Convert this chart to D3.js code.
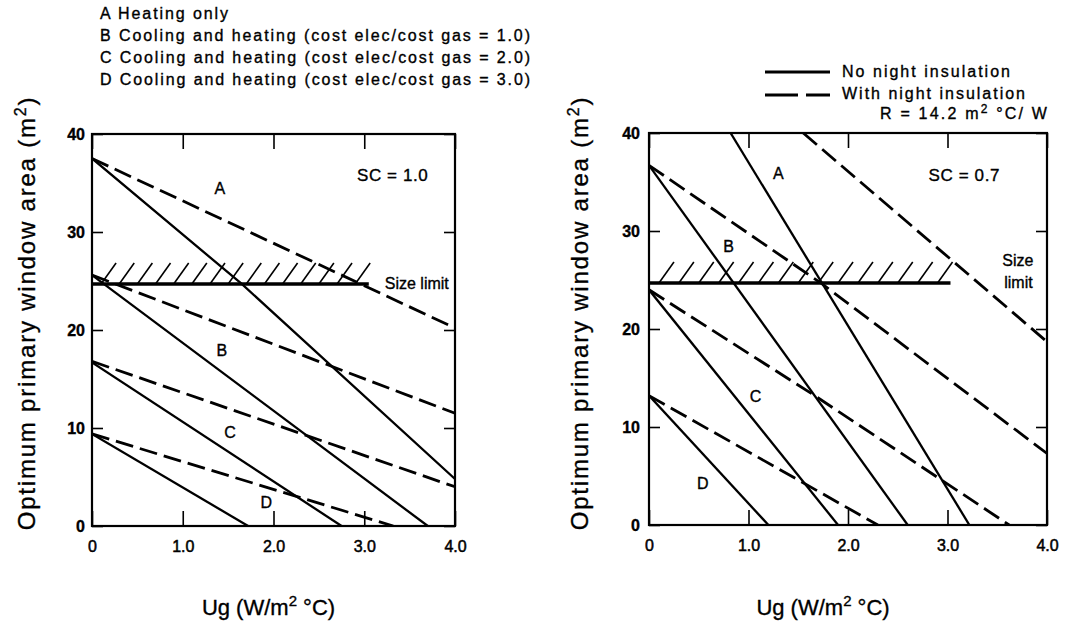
<!DOCTYPE html>
<html><head><meta charset="utf-8">
<script src="https://cdn.jsdelivr.net/npm/d3@7/dist/d3.min.js"></script>
<style>
body{margin:0;background:#fff}
svg{display:block;background:#fff}
text{font-family:"Liberation Sans",Arial,Helvetica,sans-serif;fill:#000;stroke:#000;stroke-width:0.35}
</style>
</head><body>
<svg id="c" width="1067" height="627"></svg>
<script>
// ---------- data ----------
const xTicks = [0, 1, 2, 3, 4];
const xTickLabels = ["0", "1.0", "2.0", "3.0", "4.0"];
const yTicks = [0, 10, 20, 30, 40];
const yTickLabels = ["0", "10", "20", "30", "40"];
const legendLines = [
  "A Heating only",
  "B Cooling and heating (cost elec/cost gas = 1.0)",
  "C Cooling and heating (cost elec/cost gas = 2.0)",
  "D Cooling and heating (cost elec/cost gas = 3.0)"
];
const styleLegend = ["No night insulation", "With night insulation"];
const sizeLimit = 24.7;

// SC = 1.0  [Ug, area]
const sc10_A_solid  = [[0, 37.5], [1.65, 24.7], [4.0, 4.8]];
const sc10_A_dashed = [[0, 37.5], [4.0, 20.2]];
const sc10_B_solid  = [[0, 25.6], [3.70, 0]];
const sc10_B_dashed = [[0, 25.6], [4.0, 11.5]];
const sc10_C_solid  = [[0, 16.7], [2.75, 0]];
const sc10_C_dashed = [[0, 16.8], [4.0, 4.0]];
const sc10_D_solid  = [[0, 9.4], [1.72, 0]];
const sc10_D_dashed = [[0, 9.4], [3.32, 0]];
const sc10_limitEnd = 3.05;
const sc10_labels = [["A", 1.41, 34.5], ["B", 1.43, 17.9], ["C", 1.52, 9.6], ["D", 1.92, 2.4]];

// SC = 0.7
const sc07_A_solid  = [[0.82, 40], [3.22, 0]];
const sc07_A_dashed = [[1.55, 40], [4.0, 18.7]];
const sc07_B_solid  = [[0, 36.7], [2.60, 0]];
const sc07_B_dashed = [[0, 36.7], [1.74, 24.6], [4.0, 7.3]];
const sc07_C_solid  = [[0, 24.0], [1.90, 0]];
const sc07_C_dashed = [[0, 24.0], [1.65, 13.3], [3.62, 0]];
const sc07_D_solid  = [[0, 13.2], [1.20, 0]];
const sc07_D_dashed = [[0, 13.2], [2.30, 0]];
const sc07_limitEnd = 3.03;
const sc07_labels = [["A", 1.30, 35.9], ["B", 0.80, 28.4], ["C", 1.07, 13.1], ["D", 0.54, 4.3]];

const svg = d3.select("#c");

function panel(p) {
  const x = d3.scaleLinear().domain([0, 4]).range([p.x0, p.x1]);
  const y = d3.scaleLinear().domain([0, 40]).range([p.yb, p.yt]);
  const g = svg.append("g");
  const cid = "clip" + p.id;
  svg.append("clipPath").attr("id", cid).append("rect")
    .attr("x", p.x0).attr("y", p.yt).attr("width", p.x1 - p.x0).attr("height", p.yb - p.yt);
  const line = d3.line().x(d => x(d[0])).y(d => y(d[1]));
  const lg = g.append("g").attr("clip-path", `url(#${cid})`);
  p.solid.forEach(s => lg.append("path").attr("d", line(s)).attr("fill", "none")
    .attr("stroke", "#000").attr("stroke-width", 2.3));
  p.dashed.forEach(s => lg.append("path").attr("d", line(s)).attr("fill", "none")
    .attr("stroke", "#000").attr("stroke-width", 2.8).attr("stroke-dasharray", "18,7"));
  // size limit
  g.append("line").attr("x1", x(0)).attr("x2", x(p.limitEnd))
    .attr("y1", y(sizeLimit)).attr("y2", y(sizeLimit))
    .attr("stroke", "#000").attr("stroke-width", 3.6);
  d3.range(0.1, p.limitEnd, 0.2).forEach(u => {
    g.append("line").attr("x1", x(u)).attr("y1", y(sizeLimit))
      .attr("x2", x(u) + 15).attr("y2", y(sizeLimit) - 21)
      .attr("stroke", "#000").attr("stroke-width", 1.6);
  });
  // frame
  g.append("rect").attr("x", p.x0).attr("y", p.yt).attr("width", p.x1 - p.x0)
    .attr("height", p.yb - p.yt).attr("fill", "none").attr("stroke", "#000").attr("stroke-width", 2.2);
  // axes
  const ax = g.append("g").attr("transform", `translate(0,${p.yb})`)
    .call(d3.axisBottom(x).tickValues(xTicks).tickFormat((d, i) => xTickLabels[i])
      .tickSize(-15).tickPadding(15));
  const at = g.append("g").attr("transform", `translate(0,${p.yt})`)
    .call(d3.axisTop(x).tickValues(xTicks).tickFormat("").tickSize(-15));
  const al = g.append("g").attr("transform", `translate(${p.x0},0)`)
    .call(d3.axisLeft(y).tickValues(yTicks).tickFormat((d, i) => yTickLabels[i])
      .tickSize(-11).tickPadding(p.ypad));
  const ar = g.append("g").attr("transform", `translate(${p.x1},0)`)
    .call(d3.axisRight(y).tickValues(yTicks).tickFormat("").tickSize(-11));
  [ax, at, al, ar].forEach(a => {
    a.select(".domain").remove();
    a.selectAll(".tick line").attr("stroke", "#000").attr("stroke-width", 1.6);
    a.selectAll("text").attr("font-family", null).style("font-size", "16px").attr("fill", "#000");
  });
  al.selectAll("text").style("font-weight", "bold");
  ax.selectAll("text").style("stroke-width", "0.5");
  // curve labels
  p.labels.forEach(l => g.append("text").attr("x", x(l[1])).attr("y", y(l[2]))
    .attr("text-anchor", "middle").attr("dy", "0.36em").style("font-size", "16px").text(l[0]));
  // SC label
  g.append("text").attr("x", x(p.scPos[0])).attr("y", y(p.scPos[1])).attr("dy", "0.36em")
    .style("font-size", "17px").style("letter-spacing", "0.6px").text(p.sc);
  // axis titles
  const xt = g.append("text").attr("x", (p.x0 + p.x1) / 2 - p.xtShift).attr("y", 615)
    .attr("text-anchor", "middle").style("font-size", "22px");
  xt.append("tspan").text("Ug (W/m");
  xt.append("tspan").attr("dy", -9).style("font-size", "15px").text("2");
  xt.append("tspan").attr("dy", 9).text(" \u00B0C)");
  const yt = g.append("text").attr("transform", `translate(${p.ytX},313) rotate(-90)`)
    .attr("text-anchor", "middle").style("font-size", "24px").style("letter-spacing", "1.8px");
  yt.append("tspan").text("Optimum primary window area (m");
  yt.append("tspan").attr("dy", -9).style("font-size", "16px").text("2");
  yt.append("tspan").attr("dy", 9).text(")");
  return {x, y, g};
}

const left = panel({
  id: "L", x0: 92, x1: 455, yt: 134, yb: 526, ypad: 7, ytX: 35, xtShift: 5,
  solid: [sc10_A_solid, sc10_B_solid, sc10_C_solid, sc10_D_solid],
  dashed: [sc10_A_dashed, sc10_B_dashed, sc10_C_dashed, sc10_D_dashed],
  limitEnd: sc10_limitEnd, labels: sc10_labels, sc: "SC = 1.0", scPos: [2.92, 35.8]
});
const right = panel({
  id: "R", x0: 649, x1: 1047, yt: 133, yb: 525, ypad: 9, ytX: 588, xtShift: 25,
  solid: [sc07_A_solid, sc07_B_solid, sc07_C_solid, sc07_D_solid],
  dashed: [sc07_A_dashed, sc07_B_dashed, sc07_C_dashed, sc07_D_dashed],
  limitEnd: sc07_limitEnd, labels: sc07_labels, sc: "SC = 0.7", scPos: [2.81, 35.7]
});

// size limit labels
left.g.append("text").attr("x", left.x(sc10_limitEnd) + 16).attr("y", left.y(sizeLimit) + 5)
  .style("font-size", "16px").text("Size limit");
right.g.append("text").attr("x", right.x(3.55)).attr("y", right.y(sizeLimit) - 17)
  .style("font-size", "16px").text("Size");
right.g.append("text").attr("x", right.x(3.57)).attr("y", right.y(sizeLimit) + 5)
  .style("font-size", "16px").text("limit");

// top-left legend
const legBase = [19, 41, 63, 85];
legendLines.forEach((t, i) => {
  svg.append("text").attr("x", 100).attr("y", legBase[i]).style("font-size", "16px")
    .attr("textLength", i > 0 ? 430 : 128).attr("lengthAdjust", "spacing").text(t);
});

// top-right style legend
svg.append("line").attr("x1", 765).attr("x2", 830).attr("y1", 72).attr("y2", 72)
  .attr("stroke", "#000").attr("stroke-width", 2.8);
svg.append("line").attr("x1", 765).attr("x2", 830).attr("y1", 95).attr("y2", 95)
  .attr("stroke", "#000").attr("stroke-width", 2.8).attr("stroke-dasharray", "33,8");
svg.append("text").attr("x", 842).attr("y", 77).style("font-size", "16px")
  .attr("textLength", 168).attr("lengthAdjust", "spacing").text(styleLegend[0]);
svg.append("text").attr("x", 842).attr("y", 99).style("font-size", "16px")
  .attr("textLength", 183).attr("lengthAdjust", "spacing").text(styleLegend[1]);
const rt = svg.append("text").attr("x", 880).attr("y", 119).style("font-size", "16px").style("letter-spacing", "2.2px");
rt.append("tspan").text("R = 14.2 m");
rt.append("tspan").attr("dy", -6).style("font-size", "12px").text("2");
rt.append("tspan").attr("dy", 6).text(" \u00B0C/ W");
</script>
</body></html>
